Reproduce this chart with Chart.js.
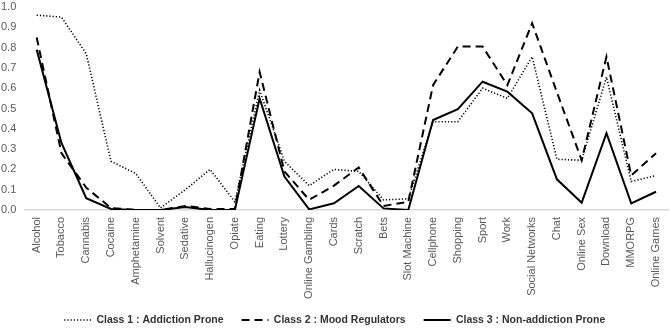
<!DOCTYPE html>
<html>
<head>
<meta charset="utf-8">
<script src="https://cdn.jsdelivr.net/npm/chart.js@4/dist/chart.umd.min.js"></script>
<style>
  html, body { margin: 0; padding: 0; background: #ffffff; }
  #wrap { width: 670px; height: 331px; position: relative; }
</style>
</head>
<body>
<div id="wrap"><canvas id="addictionChart"></canvas></div>
<script>
// Categorias do eixo X
const categories = [
  "Alcohol", "Tobacco", "Cannabis", "Cocaine", "Amphetamine", "Solvent",
  "Sedative", "Hallucinogen", "Opiate", "Eating", "Lottery", "Online Gambling",
  "Cards", "Scratch", "Bets", "Slot Machine", "Cellphone", "Shopping", "Sport",
  "Work", "Social Networks", "Chat", "Online Sex", "Download", "MMORPG",
  "Online Games"
];

// Valores de cada classe
const class1 = [
  0.96, 0.95, 0.77, 0.24, 0.18, 0.01, 0.10, 0.20, 0.04, 0.59, 0.24, 0.12,
  0.20, 0.19, 0.05, 0.055, 0.435, 0.435, 0.60, 0.55, 0.755, 0.25, 0.245,
  0.655, 0.14, 0.17
];
const class2 = [
  0.85, 0.28, 0.11, 0.01, 0.0, 0.0, 0.02, 0.005, 0.005, 0.68, 0.19, 0.05,
  0.12, 0.21, 0.02, 0.04, 0.615, 0.805, 0.805, 0.615, 0.92, 0.58, 0.245,
  0.755, 0.17, 0.28
];
const class3 = [
  0.79, 0.33, 0.058, 0.005, 0.0, 0.0, 0.015, 0.0, 0.0, 0.55, 0.165, 0.003,
  0.033, 0.118, 0.008, 0.0, 0.443, 0.497, 0.632, 0.583, 0.476, 0.151, 0.036,
  0.378, 0.033, 0.09
];

const seriesNames = [
  "Class 1 : Addiction Prone",
  "Class 2 : Mood Regulators",
  "Class 3 : Non-addiction Prone"
];

// Rótulos do eixo Y
const yTicks = ["0.0", "0.1", "0.2", "0.3", "0.4", "0.5", "0.6", "0.7", "0.8", "0.9", "1.0"];

// Medidas da legenda (texto centrado em y = 320)
const legendPad = 18;
const legendFont = 10.5;
const bottomPad = -4.25;

function makeDataset(label, values, dash, width) {
  return {
    label: label,
    data: values,
    borderColor: "#000000",
    backgroundColor: "#000000",
    borderWidth: width,
    borderDash: dash,
    borderCapStyle: "butt",
    pointRadius: 0,
    pointHoverRadius: 0,
    tension: 0,
    fill: false,
  };
}

// Legenda com o mesmo tracejado das linhas
function legendLabels(chart) {
  const items = Chart.defaults.plugins.legend.labels.generateLabels(chart);
  items.forEach(function (item, i) {
    const ds = chart.data.datasets[i];
    item.lineDash = ds.borderDash;
    item.lineWidth = ds.borderWidth;
    item.strokeStyle = "#000000";
  });
  return items;
}

// Deixa os rótulos longos do eixo X passarem por cima da área da legenda
const noLabelClip = {
  id: "noLabelClip",
  afterLayout: function (chart) {
    chart.scales.x.bottom = chart.height;
  },
};

document.addEventListener("DOMContentLoaded", function () {
  const ctx = document.getElementById("addictionChart").getContext("2d");
  const tickFont = { family: "'Liberation Sans', Arial, sans-serif", size: 11 };
  const legendTop = 331 - bottomPad - (legendFont + legendPad + 10);

  new Chart(ctx, {
    type: "line",
    data: {
      labels: categories,
      datasets: [
        makeDataset(seriesNames[0], class1, [1.2, 2], 1.6),
        makeDataset(seriesNames[1], class2, [8, 5], 2),
        makeDataset(seriesNames[2], class3, [], 2),
      ],
    },
    plugins: [noLabelClip],
    options: {
      responsive: true,
      maintainAspectRatio: false,
      animation: false,
      layout: { padding: { top: 7, left: 1, right: 1.6, bottom: bottomPad } },
      plugins: {
        tooltip: { enabled: false },
        legend: {
          position: "bottom",
          labels: {
            usePointStyle: true,
            pointStyle: "line",
            pointStyleWidth: 27,
            padding: legendPad,
            color: "#333333",
            generateLabels: legendLabels,
            font: {
              family: "'Liberation Sans', Arial, sans-serif",
              size: legendFont,
              weight: "bold",
            },
          },
        },
      },
      scales: {
        x: {
          offset: true,
          grid: { display: false, drawTicks: false },
          border: { display: true, color: "#d9d9d9", width: 1.5 },
          ticks: {
            autoSkip: false,
            maxRotation: 90,
            minRotation: 90,
            padding: 7,
            color: "#595959",
            font: tickFont,
          },
          afterFit: function (scale) {
            scale.height = legendTop - 210;
            scale.paddingLeft = 0;
            scale.paddingRight = 0;
          },
        },
        y: {
          min: 0,
          max: 1,
          grid: { display: false, drawTicks: false },
          border: { display: false },
          ticks: {
            stepSize: 0.1,
            autoSkip: false,
            crossAlign: "far",
            padding: 4,
            color: "#595959",
            font: tickFont,
            callback: function (value, index) {
              return yTicks[index];
            },
          },
          afterFit: function (scale) {
            scale.paddingTop = 0;
            scale.paddingBottom = 0;
          },
        },
      },
    },
  });
});
</script>
</body>
</html>
